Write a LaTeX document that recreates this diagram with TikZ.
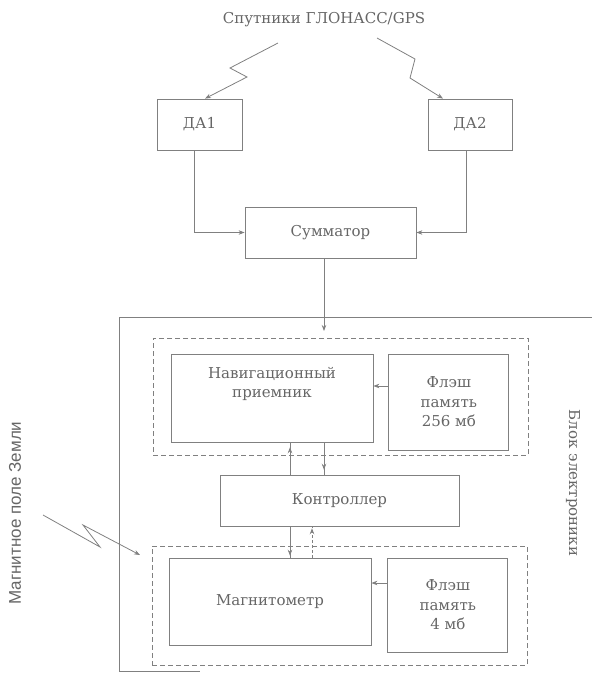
\documentclass[tikz,border=0pt]{standalone}
\usepackage{fontspec}
\setmainfont{DejaVu Serif}
\newfontfamily\rufont{DejaVu Serif}
\newfontfamily\polefont{Liberation Sans}
\usetikzlibrary{positioning, arrows.meta, decorations.markings}
\colorlet{ink}{black!50}
\tikzset{
>={Stealth[length=6pt,width=4.5pt]}, % small grey arrow heads
every node/.style={font=\rufont\fontsize{15}{19.5}\selectfont, text=black!60},
blok/.style={draw=ink, line width=0.8pt, align=center, inner sep=0pt}, % solid block
gruppa/.style={draw=ink, line width=0.8pt, dash pattern=on 5pt off 3pt, inner sep=0pt}, % dashed group
svyaz/.style={draw=ink, line width=0.8pt}, % connector
strelka/.style={postaction={decorate}, decoration={markings, mark=at position #1 with {\arrow{>}}}},
}
\begin{document}
\begin{tikzpicture}[x=1pt, y=-1pt]
\useasboundingbox (0,0) rectangle (592,673);
% antennas and adder
\node (sputn) at (324,20) {Спутники ГЛОНАСС/GPS};
\node[blok, minimum width=85pt, minimum height=51pt] (da1) at (199.5,124.5) {ДА1};
\node[blok, minimum width=84pt, minimum height=51pt] (da2) at (470,124.5) {ДА2};
\node[blok, minimum width=171pt, minimum height=51pt] (summ) at (330.5,232.5) {Сумматор};
% electronics unit
\draw[svyaz] (592,317) -- (119,317) -- (119,671) -- (200,671);
\node[rotate=-90] (blok) at (573,483) {Блок электроники};
\node[gruppa, minimum width=375pt, minimum height=117pt] (grp1) at (340.5,396.5) {};
\node[blok, minimum width=202pt, minimum height=88pt] (nav) at (272,398) {};
\node[align=center] (navtxt) at ([yshift=14pt]nav.center) {Навигационный\\приемник};
\node[blok, minimum width=120pt, minimum height=96pt, below right=0pt and 15pt of nav.north east] (fl1) {Флэш\\память\\256 мб};
\node[blok, minimum width=239pt, minimum height=51pt] (ctrl) at (339.5,500.5) {Контроллер};
\node[gruppa, minimum width=375pt, minimum height=119pt] (grp2) at (339.5,605.5) {};
\node[blok, minimum width=202pt, minimum height=87pt] (mag) at (270,601.5) {Магнитометр};
\node[blok, minimum width=120pt, minimum height=94pt, below right=0pt and 16pt of mag.north east] (fl2) {Флэш\\память\\4 мб};
% magnetic field
\node[rotate=90, font=\polefont\fontsize{17}{19.5}\selectfont] (pole) at (15,513) {Магнитное поле Земли};
% free ends
\coordinate (luch1) at (278,43);
\coordinate (luch2) at (377,38);
\coordinate (luch3) at (43,515);
\coordinate (vhod) at (324,331);
\coordinate (cel3) at (140,555);
% connectors
\draw[svyaz, ->] (luch1) -- (230,68) -- (247,77) -- ([xshift=5.5pt]da1.north);
\draw[svyaz, ->] (luch2) -- (415,59) -- (410,78) -- ([xshift=-27pt]da2.north);
\draw[svyaz, ->] (luch3) -- (100,547) -- (83,525) -- (cel3);
\draw[svyaz, ->] ([xshift=-5.5pt]da1.south) |- (summ.west);
\draw[svyaz, ->] ([xshift=-4pt]da2.south) |- (summ.east);
\draw[svyaz, ->] ([xshift=-6.5pt]summ.south) -- (vhod);
\draw[svyaz, ->] ([yshift=16pt]fl1.west) -- ([yshift=12pt]nav.east);
\draw[svyaz, ->] ([yshift=22pt]fl2.west) -- ([yshift=18.5pt]mag.east);
\draw[svyaz, strelka=0.85] ([xshift=-49.5pt]ctrl.north) -- ([xshift=18pt]nav.south);
\draw[svyaz, strelka=0.85] ([xshift=52pt]nav.south) -- ([xshift=-15.5pt]ctrl.north);
\draw[svyaz, strelka=0.94] ([xshift=-49.5pt]ctrl.south) -- ([xshift=20pt]mag.north);
\draw[svyaz, dash pattern=on 3pt off 2pt, strelka=0.94] ([xshift=42pt]mag.north) -- ([xshift=-27.5pt]ctrl.south);
\end{tikzpicture}
\end{document}
